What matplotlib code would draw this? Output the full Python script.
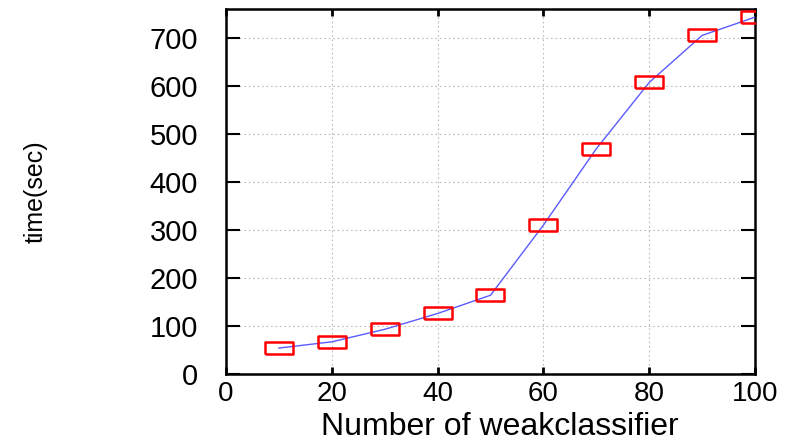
import matplotlib
matplotlib.use("Agg")
import matplotlib.pyplot as plt

n_weak = [10, 20, 30, 40, 50, 60, 70, 80, 90, 100]
time_sec = [54, 67, 93, 126, 164, 310, 469, 607, 705, 743]
x_ticks = [0, 20, 40, 60, 80, 100]
y_ticks = [0, 100, 200, 300, 400, 500, 600, 700]

plt.rcParams['font.family'] = ['Liberation Sans', 'DejaVu Sans']
fig = plt.figure(figsize=(8.03, 4.43), dpi=100)
ax = fig.add_axes([226/803, 1-374/443, (755-226)/803, (374-9)/443])

rect = [(-1, -0.46), (1, -0.46), (1, 0.46), (-1, 0.46), (-1, -0.46)]
ax.plot(n_weak, time_sec, color='#5a5aff', lw=1.0, zorder=3)
ax.plot(n_weak, time_sec, linestyle='none', marker=rect, markersize=19.5,
        markerfacecolor='none', markeredgecolor='red', markeredgewidth=1.8, zorder=4)

ax.set_xlim(0, 100)
ax.set_ylim(0, 760)
ax.set_xticks(x_ticks)
ax.set_yticks(y_ticks)
ax.grid(True, color='#bbbbbb', linestyle=(0, (1.5, 2.5)), linewidth=0.8, zorder=0)
ax.tick_params(axis='x', direction='in', length=5, width=2, top=True, labelsize=20, pad=5)
ax.tick_params(axis='y', direction='in', length=10, width=1.5, right=True, labelsize=21, pad=20)
for s in ax.spines.values():
    s.set_linewidth(1.8)

fig.text(500/803, 1/443, 'Number of weakclassifier', fontsize=23,
         ha='center', va='bottom')
fig.text(36/803, 1-192/443, 'time(sec)', rotation=90, fontsize=18, ha='center', va='center')

fig.savefig('out.png', dpi=100)
